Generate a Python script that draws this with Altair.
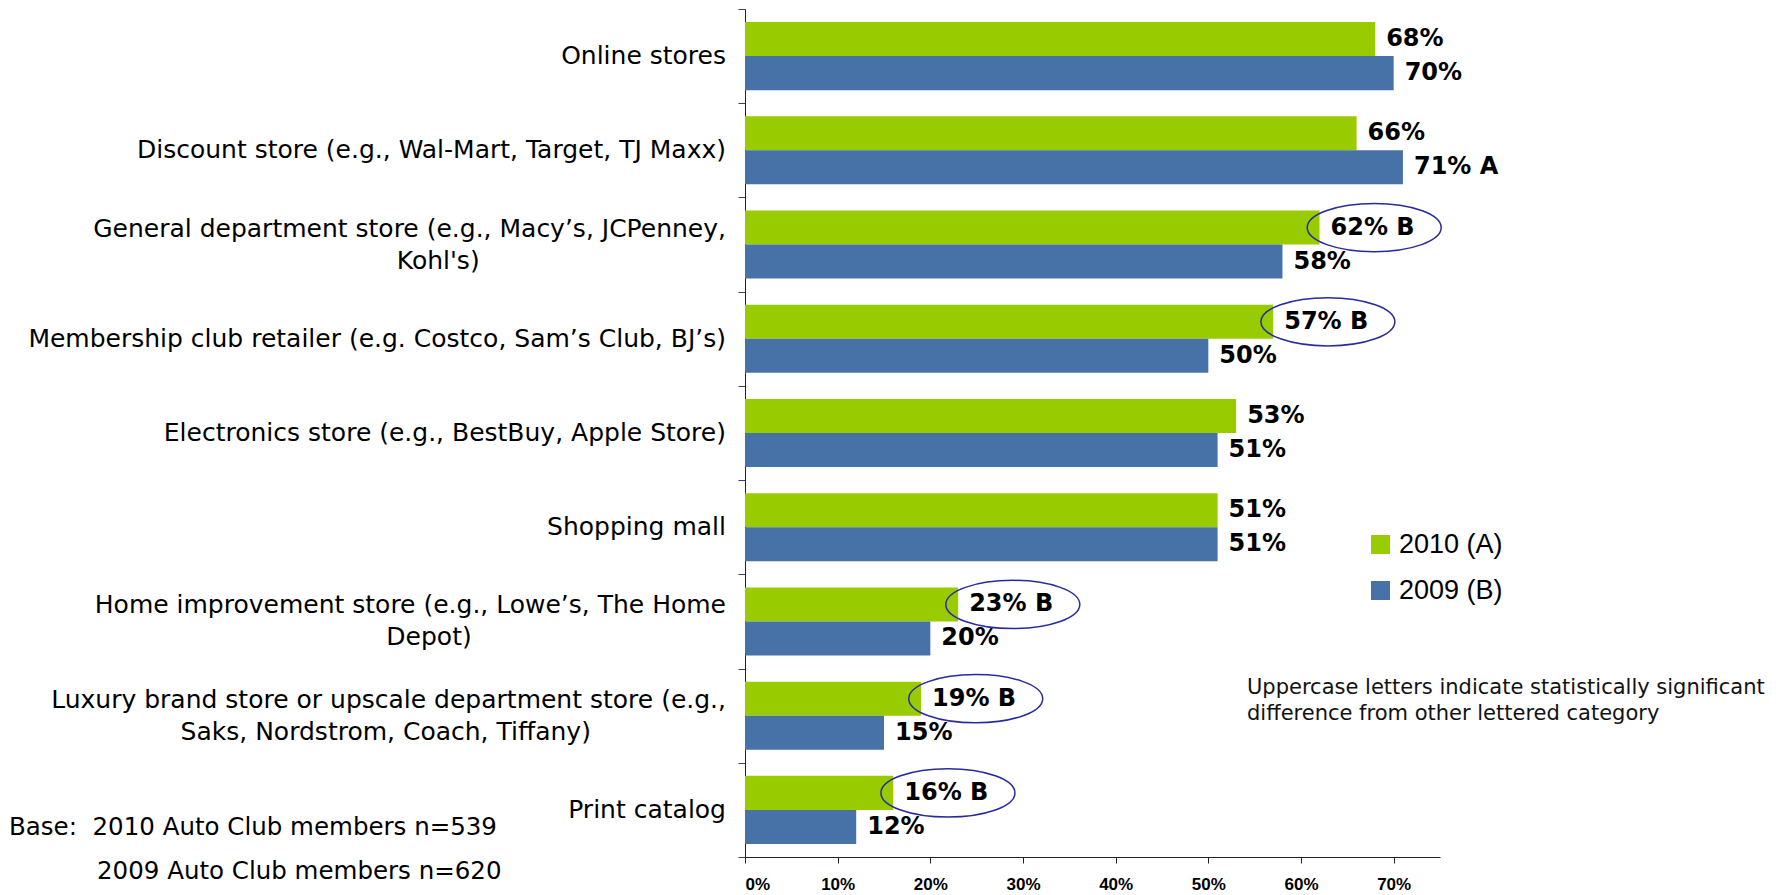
import altair as alt
import pandas as pd

NB = "\u00a0"
ZW = "\u200b"

categories = [
    "Online stores",
    "Discount store (e.g., Wal-Mart, Target, TJ Maxx)",
    "General department store (e.g., Macy’s, JCPenney, Kohl's)",
    "Membership club retailer (e.g. Costco, Sam’s Club, BJ’s)",
    "Electronics store (e.g., BestBuy, Apple Store)",
    "Shopping mall",
    "Home improvement store (e.g., Lowe’s, The Home Depot)",
    "Luxury brand store or upscale department store (e.g., Saks, Nordstrom, Coach, Tiffany)",
    "Print catalog",
]
category_lines = [
    "Online stores",
    "Discount store (e.g., Wal-Mart, Target, TJ Maxx)",
    "General department store (e.g., Macy’s, JCPenney,\nKohl's)" + NB * 31 + ZW,
    "Membership club retailer (e.g. Costco, Sam’s Club, BJ’s)",
    "Electronics store (e.g., BestBuy, Apple Store)",
    "Shopping mall",
    "Home improvement store (e.g., Lowe’s, The Home\nDepot)" + NB * 32 + ZW,
    "Luxury brand store or upscale department store (e.g.,\nSaks, Nordstrom, Coach, Tiffany)" + NB * 17 + ZW,
    "Print catalog",
]
series = ["2010 (A)", "2009 (B)"]
colors = ["#99CC00", "#4672A8"]
values_2010 = [68, 66, 62, 57, 53, 51, 23, 19, 16]
values_2009 = [70, 71, 58, 50, 51, 51, 20, 15, 12]
sig_2010 = ["", "", "B", "B", "", "", "B", "B", "B"]
sig_2009 = ["", "A", "", "", "", "", "", "", ""]
x_ticks = [0, 0.1, 0.2, 0.3, 0.4, 0.5, 0.6, 0.7]
base_lines = ["Base:" + NB + NB + "2010 Auto Club members n=539", "2009 Auto Club members n=620"]
note_text = "Uppercase letters indicate statistically significant\ndifference from other lettered category"

rows = []
for i, c in enumerate(categories):
    for s, vals, sigs in ((series[0], values_2010, sig_2010), (series[1], values_2009, sig_2009)):
        v = vals[i]
        lab = f"{v}%" + (f" {sigs[i]}" if sigs[i] else "")
        rows.append({"cat": c, "series": s, "pct": v / 100.0, "label": lab, "sig": sigs[i]})
df = pd.DataFrame(rows)
cat_df = pd.DataFrame({"cat": categories, "text": category_lines,
                       "multi": ["\n" in t for t in category_lines]})
base_df = pd.DataFrame({"text": base_lines})
note_df = pd.DataFrame({"text": [note_text]})

y_enc = alt.Y("cat:N", sort=categories,
              scale=alt.Scale(domain=categories, paddingInner=0, paddingOuter=0),
              axis=alt.Axis(labels=False, title=None, tickBand="extent", tickSize=7,
                            tickColor="#444", domainColor="#222", grid=False))
yoff_enc = alt.YOffset("series:N", sort=series,
                       scale=alt.Scale(domain=series, paddingInner=0, paddingOuter=0.385))
x_enc = alt.X("pct:Q", scale=alt.Scale(domain=[0, 0.75], nice=False),
              axis=alt.Axis(values=x_ticks, format=".0%", title=None, grid=False,
                            labelFont="Liberation Sans", labelFontWeight="bold",
                            labelFontSize=17, labelColor="black", tickSize=6,
                            tickColor="#222", domainColor="#222", labelPadding=13))

bars = alt.Chart(df).mark_bar(strokeWidth=0).encode(
    x=x_enc, y=y_enc, yOffset=yoff_enc,
    color=alt.Color("series:N", scale=alt.Scale(domain=series, range=colors),
                    legend=alt.Legend(orient="none", legendX=622, legendY=522, title=None,
                                      symbolType="square", symbolSize=361, symbolStrokeWidth=0,
                                      symbolOpacity=1, labelFont="Liberation Sans",
                                      labelFontSize=27, labelColor="black", labelOffset=5,
                                      rowPadding=18, padding=0, direction="vertical")),
)

value_labels = alt.Chart(df).mark_text(
    align="left", baseline="middle", dx=11, font="DejaVu Sans", fontWeight="bold",
    fontSize=24, color="black"
).encode(x="pct:Q", y=alt.Y("cat:N", sort=categories), yOffset=alt.YOffset("series:N", sort=series),
         text="label:N")

ellipse_path = ("M -1 0 C -1 -0.199 -0.552 -0.36 0 -0.36 C 0.552 -0.36 1 -0.199 1 0 "
                "C 1 0.199 0.552 0.36 0 0.36 C -0.552 0.36 -1 0.199 -1 0 Z")
ellipses = alt.Chart(df).transform_filter(
    (alt.datum.series == series[0]) & (alt.datum.sig == "B")
).transform_calculate(ex="datum.pct + 0.059").mark_point(
    shape=ellipse_path, filled=False, size=17956, stroke="#2a2aa0", strokeWidth=1.5, opacity=1
).encode(x=alt.X("ex:Q"), y=alt.Y("cat:N", sort=categories),
         yOffset=alt.YOffset("series:N", sort=series))

cat_single = alt.Chart(cat_df).transform_filter("!datum.multi").mark_text(
    align="right", baseline="middle", font="DejaVu Sans", fontSize=25,
    color="black", lineBreak="\n", lineHeight=32
).encode(x=alt.value(-19), y=alt.Y("cat:N", sort=categories), text="text:N")

cat_multi = alt.Chart(cat_df).transform_filter("datum.multi").mark_text(
    align="right", baseline="middle", dy=-16, font="DejaVu Sans", fontSize=25,
    color="black", lineBreak="\n", lineHeight=32
).encode(x=alt.value(-19), y=alt.Y("cat:N", sort=categories), text="text:N")

base1 = alt.Chart(base_df.iloc[[0]]).mark_text(
    align="left", baseline="middle", font="DejaVu Sans", fontSize=24.5, color="black"
).encode(x=alt.value(-736), y=alt.value(819), text="text:N")
base2 = alt.Chart(base_df.iloc[[1]]).mark_text(
    align="left", baseline="middle", font="DejaVu Sans", fontSize=24.5, color="black"
).encode(x=alt.value(-648), y=alt.value(863), text="text:N")

note = alt.Chart(note_df).mark_text(
    align="left", baseline="middle", font="DejaVu Sans", fontSize=21, color="#111",
    lineBreak="\n", lineHeight=26
).encode(x=alt.value(502), y=alt.value(679), text="text:N")

chart = alt.layer(bars, value_labels, ellipses, cat_single, cat_multi, base1, base2, note).properties(
    width=695, height=848,
    autosize=alt.AutoSizeParams(type="none"),
    padding={"left": 737, "top": 1, "right": 341, "bottom": 36},
).configure_view(stroke=None)

chart.save("out.html", embed_options={"renderer": "svg", "actions": False})
